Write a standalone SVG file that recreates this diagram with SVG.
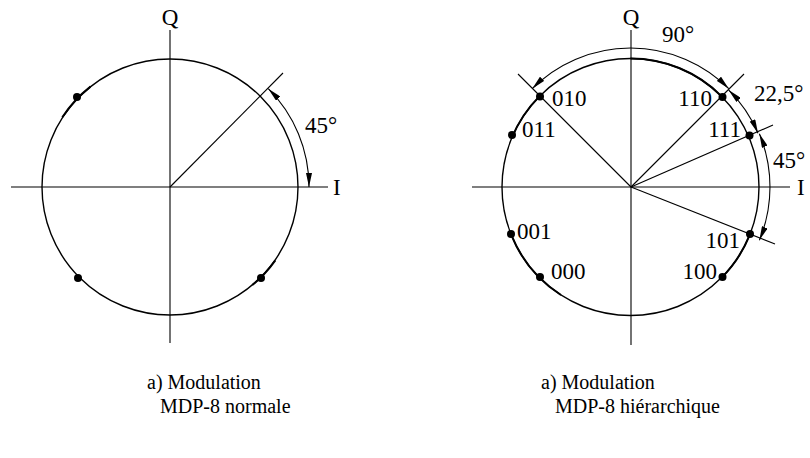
<svg xmlns="http://www.w3.org/2000/svg" width="810" height="458" viewBox="0 0 810 458">
<style>
  .ln { stroke: #000; stroke-width: 1.1; fill: none; }
  .circ { stroke: #000; stroke-width: 1.4; fill: none; }
  .thick { stroke: #000; stroke-width: 2; fill: none; }
  .dim { stroke: #000; stroke-width: 1.1; fill: none; marker-start: url(#ah); marker-end: url(#ah); }
  .dot { fill: #000; }
  text { font-family: 'Liberation Serif', 'Times New Roman', serif; font-size: 23px; fill: #000; }
  .cap { font-size: 20px; }
</style>
<defs>
  <marker id="ah" viewBox="0 0 14 6" refX="14" refY="3" markerWidth="14" markerHeight="6" markerUnits="userSpaceOnUse" orient="auto-start-reverse">
    <path d="M0,0 L14,3 L0,6 Z" fill="#000"/>
  </marker>
</defs>
<rect width="810" height="458" fill="#fff"/>

<g id="diagram-a">
  <g id="axes-a">
    <line class="ln" x1="11" y1="187" x2="328" y2="187"/>
    <line class="ln" x1="170" y1="30" x2="170" y2="343"/>
    <text x="170" y="25" text-anchor="middle">Q</text>
    <text x="333" y="195">I</text>
  </g>
  <g id="circle-a">
    <circle class="circ" cx="170" cy="187" r="128"/>
    <path class="thick" d="M90.5,86.6 A128,128 0 0 0 62.3,117.3"/>
    <path class="thick" d="M252.3,285.1 A128,128 0 0 0 275.3,260.4"/>
  </g>
  <g id="points-a">
    <circle class="dot" cx="77" cy="97" r="4"/>
    <circle class="dot" cx="78" cy="278" r="4"/>
    <circle class="dot" cx="261" cy="278" r="4"/>
  </g>
  <g id="connectors-a">
    <line class="ln" x1="170" y1="187" x2="283" y2="73"/>
    <path class="dim" d="M268.3,88.7 A139,139 0 0 1 309,187"/>
    <text x="305" y="133">45°</text>
  </g>
</g>

<g id="diagram-b">
  <g id="axes-b">
    <line class="ln" x1="472" y1="187" x2="790" y2="187"/>
    <line class="ln" x1="631" y1="30" x2="631" y2="345"/>
    <text x="631" y="25" text-anchor="middle">Q</text>
    <text x="797" y="195">I</text>
  </g>
  <g id="circle-b">
    <circle class="circ" cx="630.5" cy="187" r="128.5"/>
    <path class="thick" d="M630.5,58.5 A128.5,128.5 0 0 1 721.4,96.1"/>
    <path class="thick" d="M539.6,96.1 A128.5,128.5 0 0 0 511.8,137.8"/>
    <path class="thick" d="M511.8,236.2 A128.5,128.5 0 0 0 561,295"/>
    <path class="thick" d="M721.4,277.9 A128.5,128.5 0 0 0 749.2,236.2"/>
  </g>
  <g id="points-b">
    <g id="p010"><circle class="dot" cx="540" cy="96.5" r="4"/><text x="552" y="106">010</text></g>
    <g id="p011"><circle class="dot" cx="512" cy="135" r="4"/><text x="522" y="137">011</text></g>
    <g id="p001"><circle class="dot" cx="511" cy="234" r="4"/><text x="517" y="239">001</text></g>
    <g id="p000"><circle class="dot" cx="540" cy="277" r="4"/><text x="551" y="279">000</text></g>
    <g id="p110"><circle class="dot" cx="722.5" cy="97" r="4"/><text x="712" y="106" text-anchor="end">110</text></g>
    <g id="p111"><circle class="dot" cx="749.5" cy="135.5" r="4"/><text x="741" y="137" text-anchor="end">111</text></g>
    <g id="p101"><circle class="dot" cx="750" cy="234" r="4"/><text x="740" y="248" text-anchor="end">101</text></g>
    <g id="p100"><circle class="dot" cx="722.5" cy="277" r="4"/><text x="717" y="279" text-anchor="end">100</text></g>
  </g>
  <g id="connectors-b">
    <line class="ln" x1="631" y1="187" x2="518" y2="74"/>
    <line class="ln" x1="631" y1="187" x2="744" y2="74"/>
    <line class="ln" x1="631" y1="187" x2="773" y2="125"/>
    <line class="ln" x1="631" y1="187" x2="775" y2="244"/>
    <path class="dim" d="M532.2,88.7 A139,139 0 0 1 728.8,88.7"/>
    <path class="dim" d="M728.6,89.9 A138,138 0 0 1 758,133.2"/>
    <path class="dim" d="M759.4,133.8 A139,139 0 0 1 759.4,240.2"/>
    <text x="662" y="42">90°</text>
    <text x="754" y="101">22,5°</text>
    <text x="773" y="168">45°</text>
  </g>
</g>

<g id="captions">
  <text class="cap" x="147" y="389">a) Modulation</text>
  <text class="cap" x="160" y="413">MDP-8 normale</text>
  <text class="cap" x="541" y="389">a) Modulation</text>
  <text class="cap" x="555" y="413">MDP-8 hiérarchique</text>
</g>
</svg>
